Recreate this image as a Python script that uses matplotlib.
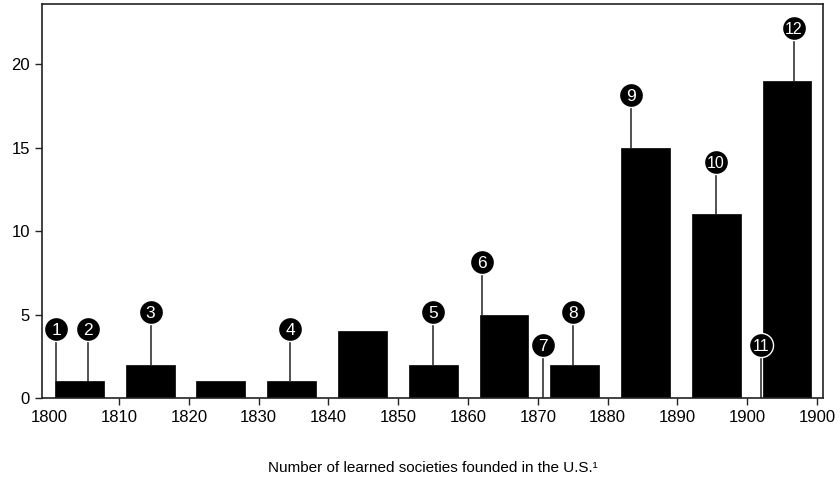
import matplotlib.pyplot as plt

plt.rcParams["font.family"] = ["Liberation Sans", "DejaVu Sans"]

# societies founded per decade
decades = [1800, 1810, 1820, 1830, 1840, 1850, 1860, 1870, 1880, 1890, 1900]
counts = [1, 2, 1, 1, 4, 2, 5, 2, 15, 11, 19]

# numbered markers: year, height of the bar below it
marker_ids = [1, 2, 3, 4, 5, 6, 7, 8, 9, 10, 11, 12]
marker_years = [1801, 1805.6, 1814.5, 1834.5, 1855.0, 1862.0, 1870.7, 1875.0, 1883.3, 1895.5, 1902.0, 1906.7]
marker_base = [1, 1, 2, 1, 2, 5, 0, 2, 15, 11, 0, 19]

tick_years = [1800, 1810, 1820, 1830, 1840, 1850, 1860, 1870, 1880, 1890, 1900, 1910]
tick_labels = ["1800", "1810", "1820", "1830", "1840", "1850", "1860", "1870", "1880", "1890", "1900", "1900"]

fig = plt.figure(figsize=(8.4, 4.78), dpi=100)
ax = fig.add_axes([0.0496, 0.1674, 0.9305, 0.8236])

# bars sit on a slightly stretched band grid
bar_left = [1800.8 + (d - 1800) * 1.014 for d in decades]
ax.bar(bar_left, counts, width=7.0, align="edge", color="black", edgecolor="black", linewidth=0.5, zorder=2)

lift = 3.15
for n, x, b in zip(marker_ids, marker_years, marker_base):
    ax.plot([x, x], [b, b + lift], color="#222222", linewidth=1.1, zorder=3)
    ax.scatter([x], [b + lift], s=300, color="black", edgecolor="white", linewidth=1.0, zorder=4)
    fs = 12.5 if n < 10 else 11.5
    ax.text(x, b + lift, str(n), color="white", fontsize=fs, ha="center", va="center_baseline",
            fontstretch="condensed", zorder=5)

ax.set_xlim(1798.9, 1910.9)
ax.set_ylim(0, 23.58)
ax.set_xticks(tick_years)
ax.set_xticklabels(tick_labels)
ax.set_yticks([0, 5, 10, 15, 20])
ax.tick_params(axis="both", labelsize=12, length=5, width=1, color="#222222")
ax.xaxis.get_major_ticks()[0].tick1line.set_visible(False)
for s in ax.spines.values():
    s.set_linewidth(1.2)
    s.set_color("#222222")

ax.set_xlabel("Number of learned societies founded in the U.S.\u00b9", fontsize=11, labelpad=26)

fig.savefig("out.png", dpi=100)
